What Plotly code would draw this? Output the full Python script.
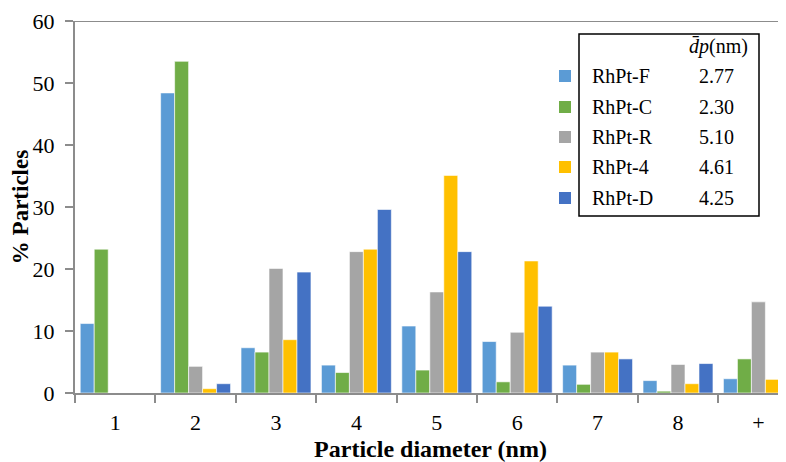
import plotly.graph_objects as go

categories = ["1", "2", "3", "4", "5", "6", "7", "8", "+"]
series_names = ["RhPt-F", "RhPt-C", "RhPt-R", "RhPt-4", "RhPt-D"]
dp_values = ["2.77", "2.30", "5.10", "4.61", "4.25"]
colors = ["#5B9BD5", "#70AD47", "#A5A5A5", "#FFC000", "#4472C4"]

rhpt_f = [11.2, 48.4, 7.3, 4.5, 10.8, 8.3, 4.5, 2.0, 2.3]
rhpt_c = [23.2, 53.5, 6.6, 3.3, 3.7, 1.8, 1.4, 0.3, 5.5]
rhpt_r = [0.0, 4.3, 20.1, 22.8, 16.3, 9.8, 6.6, 4.6, 14.7]
rhpt_4 = [0.0, 0.7, 8.6, 23.2, 35.1, 21.3, 6.6, 1.5, 2.2]
rhpt_d = [0.0, 1.5, 19.5, 29.6, 22.8, 14.0, 5.5, 4.75, 1.5]
series_values = [rhpt_f, rhpt_c, rhpt_r, rhpt_4, rhpt_d]

OFF = 8  # page body margin
W, H = 786 - OFF, 462 - OFF
ML, MT, MR = 75 - OFF, 21 - OFF, 0
PH = 372
MB = H - MT - PH
PW = W - ML - MR

def px(x):
    return (x - OFF - ML) / PW

def py(y):
    return (MT + PH - (y - OFF)) / PH

fig = go.Figure()
for name, vals, col in zip(series_names, series_values, colors):
    fig.add_trace(go.Bar(
        x=categories, y=vals, name=name,
        marker=dict(color=col, line=dict(color="rgba(255,255,255,0.6)", width=1)),
        showlegend=False,
    ))

serif = "Liberation Serif, Times New Roman, serif"
cat_px = 80.4
span = PW / cat_px

fig.update_layout(
    width=W, height=H,
    margin=dict(l=ML, r=MR, t=MT, b=MB, autoexpand=False),
    paper_bgcolor="white", plot_bgcolor="white",
    barmode="group", bargap=0.13, bargroupgap=0.0,
    font=dict(family=serif, size=22, color="black"),
    xaxis=dict(
        type="category", range=[-0.5, -0.5 + span],
        showline=True, linecolor="#8C8C8C", linewidth=2,
        ticks="outside", tickson="boundaries", ticklen=8, tickcolor="#8C8C8C", tickwidth=1.5,
        showgrid=False, automargin=False, ticklabelstandoff=9,
        tickfont=dict(family=serif, size=22),
        title=dict(text="<b>Particle diameter (nm)</b>", font=dict(family=serif, size=24), standoff=10),
    ),
    yaxis=dict(
        range=[0, 60], tickvals=[0, 10, 20, 30, 40, 50, 60],
        showline=True, linecolor="#8C8C8C", linewidth=2,
        ticks="outside", ticklen=8, tickcolor="#8C8C8C", tickwidth=1.5,
        showgrid=False, zeroline=False, automargin=False, ticklabelstandoff=6,
        tickfont=dict(family=serif, size=22),
        title=dict(text="<b>% Particles</b>", font=dict(family=serif, size=23), standoff=4),
    ),
)

shapes = []
shapes.append(dict(type="line", xref="paper", yref="y", x0=0, x1=1, y0=60, y1=60,
                   line=dict(color="#8C8C8C", width=2)))
shapes.append(dict(type="rect", xref="paper", yref="paper",
                   x0=px(579), x1=px(759), y0=py(216), y1=py(34),
                   line=dict(color="black", width=1.5), fillcolor="white"))
annotations = []
annotations.append(dict(xref="paper", yref="paper", x=px(718), y=py(46),
                        text="<i>d\u0304p</i>(nm)", showarrow=False,
                        font=dict(family=serif, size=20), xanchor="center", yanchor="middle"))
entry_y = [76, 107, 137, 167, 198]
for name, dp, col, ey in zip(series_names, dp_values, colors, entry_y):
    shapes.append(dict(type="rect", xref="paper", yref="paper",
                       x0=px(559), x1=px(571), y0=py(ey + 6), y1=py(ey - 6),
                       line=dict(width=0), fillcolor=col))
    annotations.append(dict(xref="paper", yref="paper", x=px(590), y=py(ey),
                            text=name, showarrow=False, xanchor="left", yanchor="middle",
                            font=dict(family=serif, size=20)))
    annotations.append(dict(xref="paper", yref="paper", x=px(716), y=py(ey),
                            text=dp, showarrow=False, xanchor="center", yanchor="middle",
                            font=dict(family=serif, size=20)))

fig.update_layout(shapes=shapes, annotations=annotations)
fig.write_html("out.html")
